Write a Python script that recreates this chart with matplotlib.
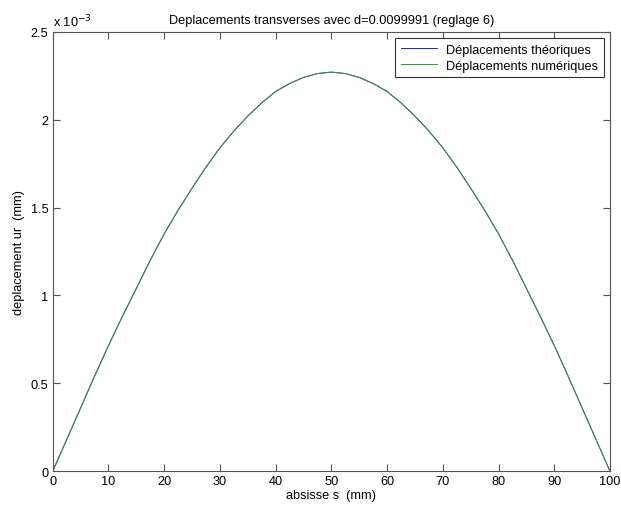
import matplotlib
matplotlib.use("Agg")
import matplotlib.pyplot as plt
import numpy as np

plt.rcParams['font.family'] = ['Liberation Sans', 'DejaVu Sans']

# abscissa s (mm)
s_mm = [0, 2.5, 5, 7.5, 10, 12.5, 15, 17.5, 20, 22.5, 25, 27.5, 30, 32.5, 35, 37.5,
        40, 42.5, 45, 47.5, 50, 52.5, 55, 57.5, 60, 62.5, 65, 67.5, 70, 72.5, 75,
        77.5, 80, 82.5, 85, 87.5, 90, 92.5, 95, 97.5, 100]
# theoretical displacement (mm)
ur_theo = [0, 0.18e-3, 0.36e-3, 0.54e-3, 0.715e-3, 0.88e-3, 1.04e-3, 1.20e-3, 1.35e-3,
           1.485e-3, 1.61e-3, 1.73e-3, 1.84e-3, 1.935e-3, 2.02e-3, 2.095e-3, 2.16e-3,
           2.205e-3, 2.24e-3, 2.262e-3, 2.27e-3, 2.262e-3, 2.24e-3, 2.205e-3, 2.16e-3,
           2.095e-3, 2.02e-3, 1.935e-3, 1.84e-3, 1.73e-3, 1.61e-3, 1.485e-3, 1.35e-3,
           1.20e-3, 1.04e-3, 0.88e-3, 0.715e-3, 0.54e-3, 0.36e-3, 0.18e-3, 0]
# numerical displacement (mm)
ur_num = [0, 0.18e-3, 0.36e-3, 0.54e-3, 0.715e-3, 0.88e-3, 1.04e-3, 1.20e-3, 1.35e-3,
          1.485e-3, 1.61e-3, 1.73e-3, 1.84e-3, 1.935e-3, 2.02e-3, 2.095e-3, 2.16e-3,
          2.205e-3, 2.24e-3, 2.262e-3, 2.27e-3, 2.262e-3, 2.24e-3, 2.205e-3, 2.16e-3,
          2.095e-3, 2.02e-3, 1.935e-3, 1.84e-3, 1.73e-3, 1.61e-3, 1.485e-3, 1.35e-3,
          1.20e-3, 1.04e-3, 0.88e-3, 0.715e-3, 0.54e-3, 0.36e-3, 0.18e-3, 0]

x_ticks = [0, 10, 20, 30, 40, 50, 60, 70, 80, 90, 100]
y_ticks = [0, 0.5e-3, 1e-3, 1.5e-3, 2e-3, 2.5e-3]
y_ticklabels = ['0', '0.5', '1', '1.5', '2', '2.5']

fig = plt.figure(figsize=(6.21, 5.10), dpi=100)
ax = fig.add_axes([0.0849, 0.0739, 0.8974, 0.8620])

ax.plot(s_mm, ur_theo, color='#2a2a9a', lw=0.7, label='Déplacements théoriques')
ax.plot(s_mm, ur_num, color='#3f8f4a', lw=0.7, label='Déplacements numériques')

ax.set_xlim(0, 100)
ax.set_ylim(0, 2.5e-3)
ax.set_xticks(x_ticks)
ax.set_xticklabels([str(t) for t in x_ticks])
ax.set_yticks(y_ticks)
ax.set_yticklabels(y_ticklabels)

fs = 9.2
ax.tick_params(direction='in', top=True, right=True, length=5, width=0.8,
               labelsize=fs, color='#555555', pad=3)
for sp in ax.spines.values():
    sp.set_color('#555555')
    sp.set_linewidth(0.8)

ax.set_title('Deplacements transverses avec d=0.0099991 (reglage 6)', fontsize=fs, pad=6)
ax.set_xlabel('absisse s  (mm)', fontsize=fs, labelpad=1)
ax.set_ylabel('deplacement ur  (mm)', fontsize=fs, labelpad=4)
ax.text(0.0, 1.005, r'x 10$^{-3}$', transform=ax.transAxes, fontsize=fs,
        ha='left', va='bottom')

leg = ax.legend(loc='upper right', fontsize=fs, fancybox=False, framealpha=1,
                edgecolor='#333333', handlelength=2.8, borderpad=0.45,
                labelspacing=0.3, handletextpad=0.7, borderaxespad=0.5)
leg.get_frame().set_linewidth(0.8)

fig.savefig('out.png', dpi=100)
